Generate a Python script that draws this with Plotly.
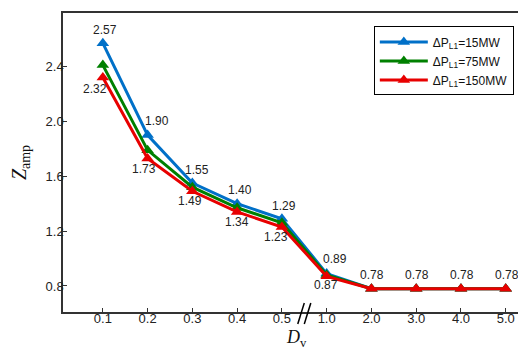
import plotly.graph_objects as go

categories = ["0.1", "0.2", "0.3", "0.4", "0.5", "1.0", "2.0", "3.0", "4.0", "5.0"]
z_15 = [2.57, 1.90, 1.55, 1.40, 1.29, 0.89, 0.78, 0.78, 0.78, 0.78]
z_75 = [2.41, 1.79, 1.52, 1.37, 1.26, 0.88, 0.78, 0.78, 0.78, 0.78]
z_150 = [2.32, 1.73, 1.49, 1.34, 1.23, 0.87, 0.78, 0.78, 0.78, 0.78]
y_ticks = [0.8, 1.2, 1.6, 2.0, 2.4]

# which points carry value labels
blue_show = [True] * 10
red_show = [True, True, True, True, True, True, False, False, False, False]

# label offsets in pixels (style)
blue_dx = [2, 9, 5, 3, 2, 8, 1, 1, 1, 1]
blue_dy = [13, 14, 13, 14, 13, 15, 14, 14, 14, 14]
red_dx = [-8, -4, -2, 0, -6, -1, 0, 0, 0, 0]
red_dy = [-12, -11, -10, -10, -10, -9, 0, 0, 0, 0]

xi = list(range(len(categories)))
xmin, xmax = -0.89, 9.52

BLUE, GREEN, RED = "#0070C8", "#008000", "#E80000"
mk = dict(symbol="triangle-up", size=11)

fig = go.Figure()
fig.add_trace(go.Scatter(x=xi, y=z_15, mode="lines+markers", name="ΔP<sub>L1</sub>=15MW",
                         line=dict(color=BLUE, width=3), marker=dict(color=BLUE, **mk)))
fig.add_trace(go.Scatter(x=xi, y=z_75, mode="lines+markers", name="ΔP<sub>L1</sub>=75MW",
                         line=dict(color=GREEN, width=3), marker=dict(color=GREEN, **mk)))
fig.add_trace(go.Scatter(x=xi, y=z_150, mode="lines+markers", name="ΔP<sub>L1</sub>=150MW",
                         line=dict(color=RED, width=3), marker=dict(color=RED, **mk)))

lab_font = dict(family="Liberation Sans, Arial", size=12, color="#222")
for x, v, s, dx, dy in zip(xi, z_15, blue_show, blue_dx, blue_dy):
    if s:
        fig.add_annotation(x=x, y=v, text=f"{v:.2f}", showarrow=False, xshift=dx, yshift=dy, font=lab_font)
for x, v, s, dx, dy in zip(xi, z_150, red_show, red_dx, red_dy):
    if s:
        fig.add_annotation(x=x, y=v, text=f"{v:.2f}", showarrow=False, xshift=dx, yshift=dy, font=lab_font)

# x-axis title
fig.add_annotation(x=0.5, y=0, xref="paper", yref="paper", yanchor="middle", yshift=-26,
                   text="<i>D</i><sub>v</sub>", showarrow=False,
                   font=dict(family="Liberation Serif, Times New Roman", size=18, color="#111"))

# axis break marker between 0.5 and 1.0
bx = (4.5 - xmin) / (xmax - xmin)
dxs = 0.014
for off in (-0.007, 0.007):
    fig.add_shape(type="line", xref="paper", yref="paper",
                  x0=bx + off - dxs / 2, y0=-0.04, x1=bx + off + dxs / 2, y1=0.03,
                  line=dict(color="black", width=1.5))

fig.update_layout(
    width=526, height=347,
    margin=dict(l=55, r=4, t=3, b=43),
    plot_bgcolor="white", paper_bgcolor="white",
    font=dict(family="Liberation Sans, Arial", size=13, color="#222"),
    legend=dict(x=0.667, y=0.955, xanchor="left", yanchor="top",
                bordercolor="black", borderwidth=1, bgcolor="white",
                font=dict(size=12, color="#111"), tracegroupgap=0, itemwidth=48),
    xaxis=dict(range=[xmin, xmax], tickvals=xi, ticktext=categories,
               showline=True, linecolor="#333", linewidth=1.5, mirror=True,
               ticks="inside", ticklen=4, tickcolor="#333", showgrid=False, zeroline=False,
               ticklabelstandoff=-6),
    yaxis=dict(range=[0.61, 2.79], tickvals=y_ticks, ticktext=[f"{v:.1f}" for v in y_ticks],
               showline=True, linecolor="#333", linewidth=1.5, mirror=True,
               ticks="inside", ticklen=4, tickcolor="#333", showgrid=False, zeroline=False,
               ticklabelstandoff=-5,
               title=dict(text="<i>Z</i><sub>amp</sub>", standoff=14,
                          font=dict(family="Liberation Serif, Times New Roman", size=20, color="#111"))),
)

fig.write_html("out.html")
